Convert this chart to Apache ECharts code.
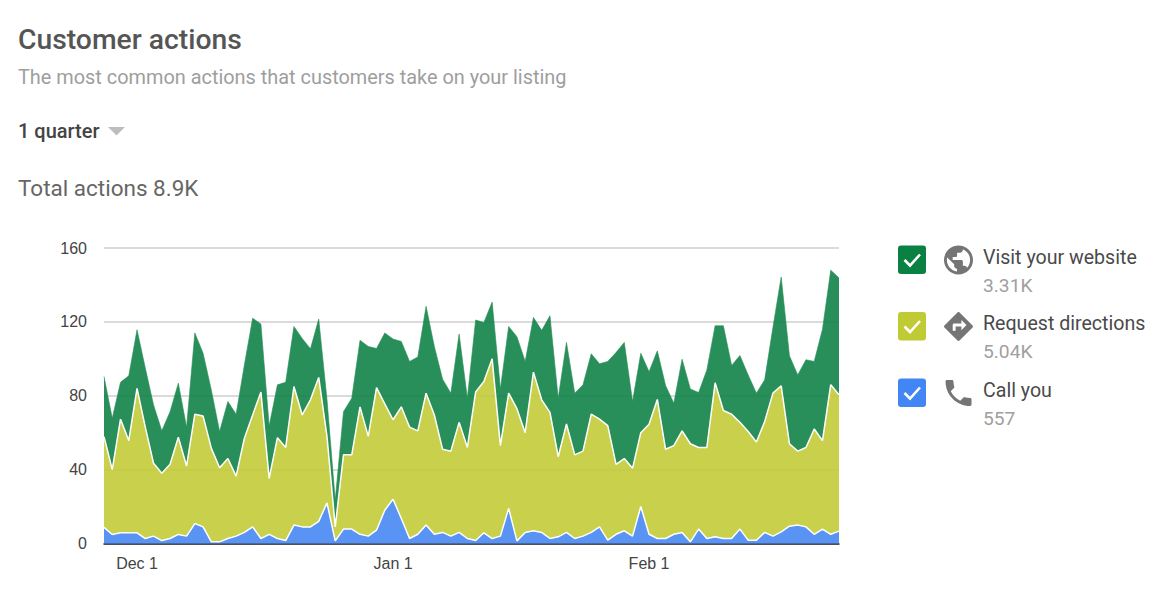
<!DOCTYPE html>
<html><head><meta charset="utf-8">
<style>html,body{margin:0;padding:0;background:#fff}#c{width:1172px;height:598px}</style>
<script src="https://cdn.jsdelivr.net/npm/echarts@6/dist/echarts.min.js"></script>
</head><body><div id="c"></div>
<script>
const categories = ["Nov 27","Nov 28","Nov 29","Nov 30","Dec 1","Dec 2","Dec 3","Dec 4","Dec 5","Dec 6","Dec 7","Dec 8","Dec 9","Dec 10","Dec 11","Dec 12","Dec 13","Dec 14","Dec 15","Dec 16","Dec 17","Dec 18","Dec 19","Dec 20","Dec 21","Dec 22","Dec 23","Dec 24","Dec 25","Dec 26","Dec 27","Dec 28","Dec 29","Dec 30","Dec 31","Jan 1","Jan 2","Jan 3","Jan 4","Jan 5","Jan 6","Jan 7","Jan 8","Jan 9","Jan 10","Jan 11","Jan 12","Jan 13","Jan 14","Jan 15","Jan 16","Jan 17","Jan 18","Jan 19","Jan 20","Jan 21","Jan 22","Jan 23","Jan 24","Jan 25","Jan 26","Jan 27","Jan 28","Jan 29","Jan 30","Jan 31","Feb 1","Feb 2","Feb 3","Feb 4","Feb 5","Feb 6","Feb 7","Feb 8","Feb 9","Feb 10","Feb 11","Feb 12","Feb 13","Feb 14","Feb 15","Feb 16","Feb 17","Feb 18","Feb 19","Feb 20","Feb 21","Feb 22","Feb 23","Feb 24"];
const callYou = [8.7,4.9,5.8,5.8,5.8,2.7,4,1.6,2.7,4.9,4,10.8,9,0.9,0.9,2.7,4,6,9,2.7,4.9,2.7,1.6,10,9,9,12,22,1.4,7.8,7.8,5,4,7.2,18,24,13.5,2.7,5,10,5,6,4,6,2.7,1.6,5.8,2.7,4,19,1.4,6,6.9,6,2.7,3.6,6,2.7,4,6,9,1.8,5,6.9,4,20,5,2.7,2.7,5,6,0.9,7.8,2.7,3.6,2.7,2.7,7.8,1.8,1.8,6,4,6.3,9.4,10,9,5,7.8,5,6.7];
const requestDirections = [49.2,35.1,61.5,49.9,78.2,60.3,39.4,36.4,40.2,52.6,38,59.2,60,50.6,40.1,43.3,32.5,51,60.6,79.3,30.4,54.6,50.4,75,60.6,68.8,77.9,36,7.6,40.2,40.2,69,54,77.2,57.6,43,60.5,60.3,56,71.4,64.6,45,46,59.6,49.3,80.4,81.9,97.3,49,62.4,71.6,54,85.9,71.8,68.3,43.4,58.7,45.3,46,64,58.3,62,37.9,39.1,36.7,40,59.6,75.3,48.3,48,55,53.1,44.2,49.3,83.4,69.3,67.3,57.8,58.8,53.2,60,77.4,79.1,44.6,40,43,57,47.9,81,73.8];
const visitWebsite = [32.5,27.8,20,35.1,31.7,32,31.6,23,28.5,29.3,21,44,34,31.5,19.6,30.9,33.5,39.7,52.4,36.8,28.3,28.6,35.3,32.5,41.4,27.6,31.6,20,14.5,23.4,30.7,36,48.7,21.2,38.4,43.7,35.4,35.6,40,47,37.1,38,31.4,47.8,26.7,39,32,30.7,30.7,36.1,39,38.6,29.6,37.6,52.3,31.7,44.2,33.4,35.9,32.7,30,34.8,60.5,62.9,36.2,43,28.4,26.3,34.5,23,38.8,29.7,29.7,42,30.9,45.9,26.4,36.2,30.7,26.4,22.6,35.6,58.9,47.6,41.3,47.5,36.6,60.3,62,63.3];
const seriesNames = ["Call you","Request directions","Visit your website"];
const yTicks = {min:0,max:160,interval:40};

const UI = 'Roboto, sans-serif';
const ICON_GLOBE = "M12 2C6.48 2 2 6.48 2 12s4.48 10 10 10 10-4.48 10-10S17.52 2 12 2zm-1 17.93c-3.95-.49-7-3.85-7-7.93 0-.62.08-1.21.21-1.79L9 15v1c0 1.1.9 2 2 2v1.93zm6.9-2.54c-.26-.81-1-1.39-1.9-1.39h-1v-3c0-.55-.45-1-1-1H8v-2h2c.55 0 1-.45 1-1V7h2c1.1 0 2-.9 2-2v-.41c2.93 1.19 5 4.06 5 7.41 0 2.08-.8 3.97-2.1 5.39z";
const ICON_DIR = "M21.71 11.29l-9-9c-.39-.39-1.02-.39-1.41 0l-9 9c-.39.39-.39 1.02 0 1.41l9 9c.39.39 1.02.39 1.41 0l9-9c.39-.38.39-1.01 0-1.41zM14 14.5V12h-4v3H8v-4c0-.55.45-1 1-1h5V7.5l3.5 3.5-3.5 3.5z";
const ICON_CALL = "M6.62 10.79c1.44 2.83 3.76 5.14 6.59 6.59l2.2-2.2c.27-.27.67-.36 1.02-.24 1.12.37 2.33.57 3.57.57.55 0 1 .45 1 1V20c0 .55-.45 1-1 1-9.39 0-17-7.61-17-17 0-.55.45-1 1-1h3.5c.55 0 1 .45 1 1 0 1.25.2 2.45.57 3.57.11.35.03.74-.25 1.02l-2.2 2.2z";
echarts.graphic.registerShape('iconGlobe', echarts.graphic.extendPath(ICON_GLOBE,{}));
echarts.graphic.registerShape('iconDir', echarts.graphic.extendPath(ICON_DIR,{}));
echarts.graphic.registerShape('iconCall', echarts.graphic.extendPath(ICON_CALL,{}));

function txt(x,y,text,size,color,weight){
  return {type:'text',x:x,y:y,style:{text:text,fontFamily:UI,fontSize:size,fontWeight:weight||400,fill:color,textVerticalAlign:'middle',textBaseline:'middle'}};
}
function legendRow(y,color,icon,ix,iy,s,label,val){
  return [
    {type:'rect',shape:{x:898,y:y,width:28,height:28.5,r:3},style:{fill:color}},
    {type:'polyline',shape:{points:[[904.5,y+14.5],[910,y+20],[920,y+9]]},style:{stroke:'#fff',lineWidth:2.6,fill:null}},
    {type:icon,x:ix,y:iy,scaleX:s,scaleY:s,style:{fill:'#757575'}},
    txt(983,y+11.5,label,19.6,'#4a4a4a'),
    txt(983,y+39.5,val,19.2,'#a0a0a0')
  ];
}
const graphic = [
  txt(18,39.5,'Customer actions',28.3,'#555',500),
  txt(18,77,'The most common actions that customers take on your listing',19.9,'#9e9e9e',400),
  txt(18,131,'1 quarter',20,'#444',500),
  {type:'polygon',shape:{points:[[108,127],[125,127],[116.5,135.5]]},style:{fill:'#bdbdbd'}},
  txt(18,188,'Total actions 8.9K',22.5,'#666',400)
].concat(
  legendRow(245.5,'#0b8043','iconGlobe',941.1,242.6,1.45,'Visit your website','3.31K'),
  legendRow(312,'#c0ca33','iconDir',941.1,309.1,1.45,'Request directions','5.04K'),
  legendRow(378.5,'#4285f4','iconCall',941.2,375.7,1.444,'Call you','557')
);

const areaColors = ['#4285f4','#c0ca33','#0b8043'];
const lineColors = ['#fff','#fff','#258d56'];
const lineWidths = [1.5,1.5,0.6];
const values = [callYou,requestDirections,visitWebsite];
const chart = echarts.init(document.getElementById('c'),null,{renderer:'svg',width:1172,height:598});
chart.setOption({
  animation:false,
  backgroundColor:'#fff',
  grid:{left:104,right:333,top:248,bottom:54.5,containLabel:false},
  xAxis:{type:'category',data:categories,boundaryGap:false,
    axisTick:{show:false},
    axisLine:{lineStyle:{color:'#223',width:1.5}},
    axisLabel:{interval:function(i,v){return / 1$/.test(v);},margin:12,fontFamily:'"Liberation Sans",Arial,sans-serif',fontSize:16,color:'#444'},
    splitLine:{show:false}},
  yAxis:{type:'value',min:yTicks.min,max:yTicks.max,interval:yTicks.interval,
    axisLine:{show:false},axisTick:{show:false},
    axisLabel:{margin:17,fontFamily:'"Liberation Sans",Arial,sans-serif',fontSize:16,color:'#444'},
    splitLine:{lineStyle:{color:'#cfcfcf',width:1.5}}},
  series:seriesNames.map(function(n,i){return {
    name:n,type:'line',stack:'actions',data:values[i],symbol:'none',smooth:false,
    lineStyle:{color:lineColors[i],width:lineWidths[i]},
    areaStyle:{color:areaColors[i],opacity:0.88},
    z:2
  };}),
  graphic:graphic
});
</script></body></html>
